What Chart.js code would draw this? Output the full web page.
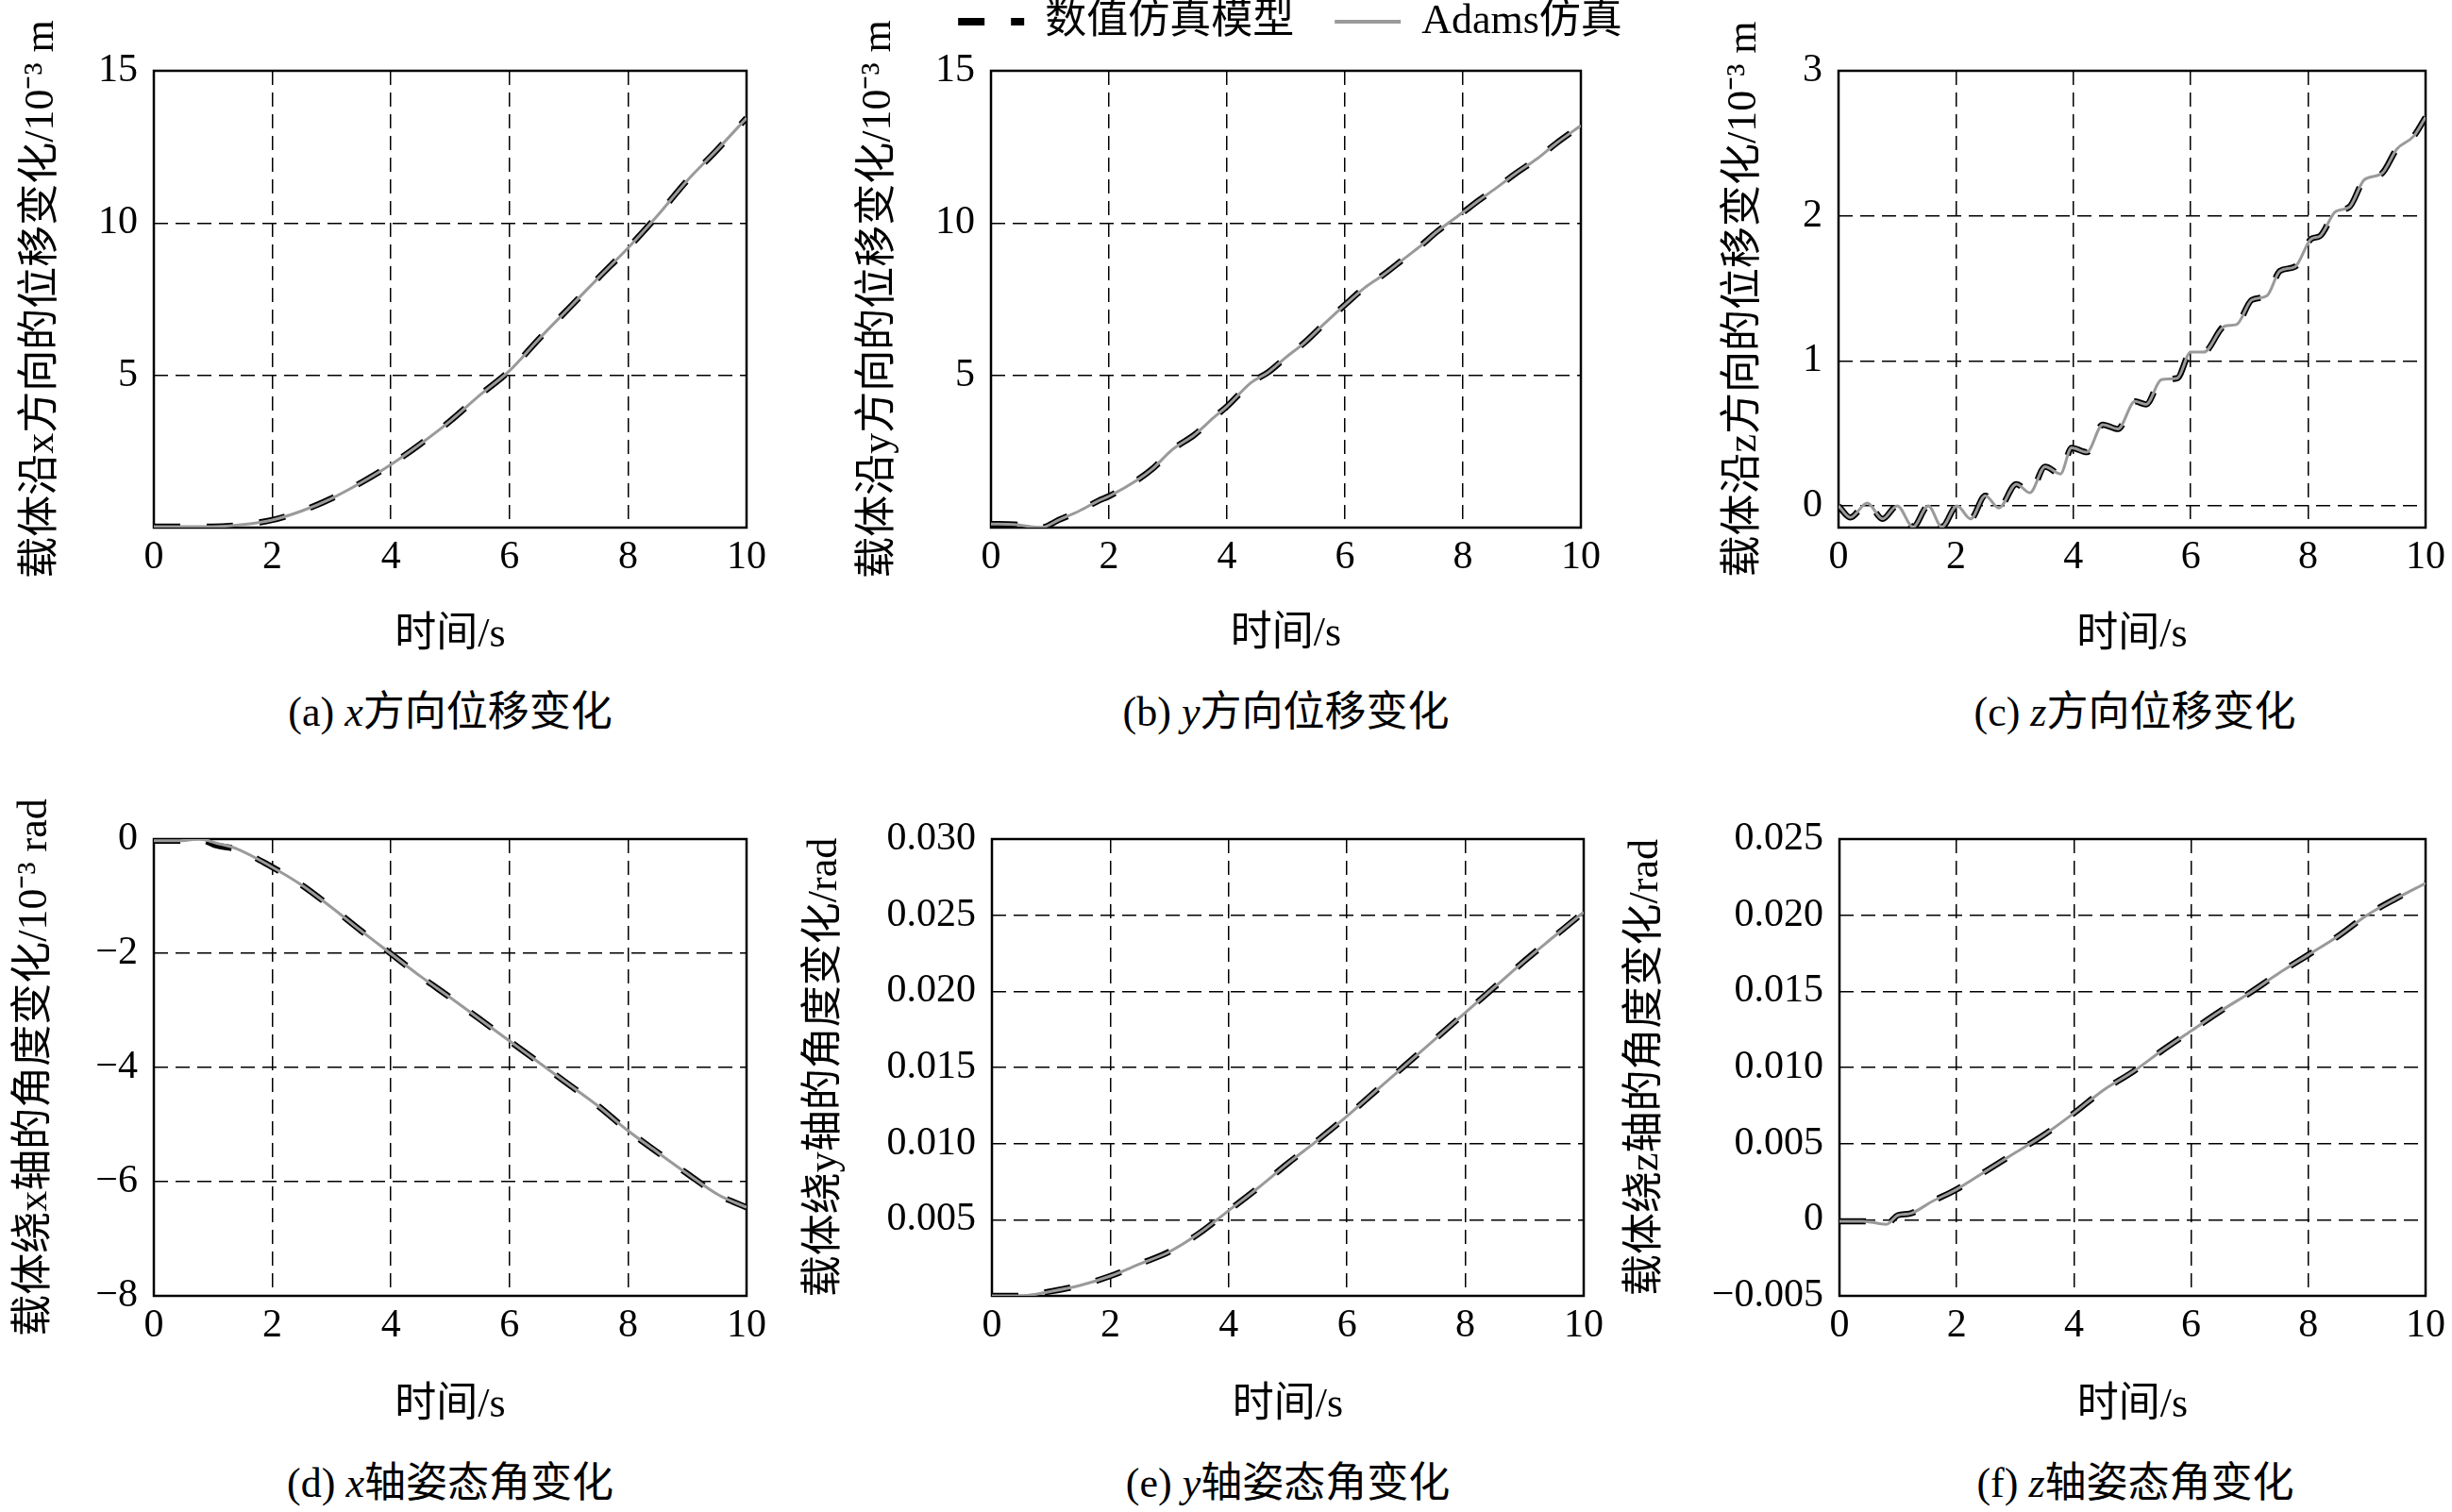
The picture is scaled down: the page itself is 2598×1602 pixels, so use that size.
<!DOCTYPE html>
<html>
<head>
<meta charset="utf-8">
<script src="https://cdn.jsdelivr.net/npm/chart.js@4.4.1/dist/chart.umd.min.js"></script>
<style>
  html, body { margin: 0; padding: 0; background: #fff; }
  body { position: relative; width: 2598px; height: 1602px; overflow: hidden;
         font-family: "Liberation Serif", "Noto Sans CJK SC", serif; color: #000; }
  canvas { position: absolute; }
  .cap { position: absolute; height: 60px; line-height: 60px; font-size: 44px;
         text-align: center; white-space: nowrap; }
</style>
</head>
<body>
<canvas id="cA"></canvas>
<canvas id="cB"></canvas>
<canvas id="cC"></canvas>
<canvas id="cD"></canvas>
<canvas id="cE"></canvas>
<canvas id="cF"></canvas>

<div class="cap" style="left:163px; top:725px; width:628px;">(a) <i>x</i>方向位移变化</div>
<div class="cap" style="left:1050px; top:725px; width:625px;">(b) <i>y</i>方向位移变化</div>
<div class="cap" style="left:1948px; top:725px; width:628px;">(c) <i>z</i>方向位移变化</div>
<div class="cap" style="left:163px; top:1542px; width:628px;">(d) <i>x</i>轴姿态角变化</div>
<div class="cap" style="left:1051px; top:1542px; width:627px;">(e) <i>y</i>轴姿态角变化</div>
<div class="cap" style="left:1949px; top:1542px; width:627px;">(f) <i>z</i>轴姿态角变化</div>

<script>
const FONT = '"Liberation Serif", "Noto Sans CJK SC", serif';

const seriesNames = ['数值仿真模型', 'Adams仿真'];
const timeTicks = [0, 2, 4, 6, 8, 10];
const timeTickLabels = ['0', '2', '4', '6', '8', '10'];

// (a) x displacement, 10^-3 m
const tA = [0, 0.5, 1.0, 1.5, 2.0, 2.5, 3.0, 3.5, 4.0, 4.5, 5.0, 5.5, 6.0, 6.5, 7.0, 7.5, 8.0, 8.5, 9.0, 9.5, 10];
const numA = [0.03, 0.03, 0.03, 0.1, 0.25, 0.55, 0.96, 1.48, 2.07, 2.75, 3.5, 4.35, 5.15, 6.2, 7.2, 8.2, 9.18, 10.25, 11.4, 12.4, 13.45];
const adamsA = [0.03, 0.03, 0.03, 0.1, 0.25, 0.55, 0.96, 1.48, 2.07, 2.75, 3.5, 4.35, 5.15, 6.2, 7.2, 8.2, 9.18, 10.25, 11.4, 12.4, 13.45];
const yTicksA = [0, 5, 10, 15];
const yLabelsA = ['', '5', '10', '15'];

// (b) y displacement, 10^-3 m
const tB = [0, 0.4, 0.84, 1.16, 1.5, 1.82, 2.0, 2.47, 2.75, 3.06, 3.45, 3.78, 4.0, 4.41, 4.7, 5.0, 5.3, 5.67, 6.02, 6.33, 6.65, 6.95, 7.25, 7.57, 8.0, 8.29, 8.6, 8.91, 9.25, 9.59, 10];
const numB = [0.12, 0.1, 0.0, 0.26, 0.55, 0.88, 1.03, 1.55, 1.95, 2.54, 3.05, 3.62, 3.98, 4.76, 5.1, 5.59, 6.05, 6.73, 7.35, 7.87, 8.3, 8.75, 9.2, 9.73, 10.35, 10.77, 11.2, 11.65, 12.1, 12.63, 13.2];
const adamsB = [0.12, 0.1, 0.0, 0.26, 0.55, 0.88, 1.03, 1.55, 1.95, 2.54, 3.05, 3.62, 3.98, 4.76, 5.1, 5.59, 6.05, 6.73, 7.35, 7.87, 8.3, 8.75, 9.2, 9.73, 10.35, 10.77, 11.2, 11.65, 12.1, 12.63, 13.2];
const yTicksB = [0, 5, 10, 15];
const yLabelsB = ['', '5', '10', '15'];

// (c) z displacement, 10^-3 m
const tC = [0, 0.2, 0.49, 0.75, 1.0, 1.27, 1.53, 1.76, 2.02, 2.25, 2.5, 2.73, 3.03, 3.26, 3.52, 3.78, 3.97, 4.23, 4.5, 4.76, 5.05, 5.24, 5.5, 5.77, 6.0, 6.22, 6.58, 6.78, 7.04, 7.3, 7.52, 7.78, 8.05, 8.2, 8.47, 8.7, 8.96, 9.25, 9.51, 9.8, 10];
const numC = [0, -0.08, 0.02, -0.09, 0.0, -0.145, 0.0, -0.145, 0.0, -0.09, 0.07, -0.015, 0.15, 0.09, 0.27, 0.22, 0.4, 0.37, 0.56, 0.53, 0.72, 0.7, 0.87, 0.88, 1.06, 1.06, 1.24, 1.25, 1.42, 1.45, 1.62, 1.65, 1.84, 1.86, 2.03, 2.06, 2.25, 2.29, 2.46, 2.55, 2.68];
const adamsC = [0, -0.08, 0.02, -0.09, 0.0, -0.145, 0.0, -0.145, 0.0, -0.09, 0.07, -0.015, 0.15, 0.09, 0.27, 0.22, 0.4, 0.37, 0.56, 0.53, 0.72, 0.7, 0.87, 0.88, 1.06, 1.06, 1.24, 1.25, 1.42, 1.45, 1.62, 1.65, 1.84, 1.86, 2.03, 2.06, 2.25, 2.29, 2.46, 2.55, 2.68];
const yTicksC = [0, 1, 2, 3];
const yLabelsC = ['0', '1', '2', '3'];

// (d) angle about x, 10^-3 rad
const tD = [0, 0.4, 0.78, 1.05, 1.4, 1.96, 2.5, 2.99, 3.5, 3.99, 4.52, 4.98, 5.48, 5.98, 6.48, 6.99, 7.49, 7.99, 8.49, 9.0, 9.54, 10];
const numD = [-0.03, -0.03, -0.01, -0.11, -0.18, -0.47, -0.81, -1.19, -1.61, -2.0, -2.42, -2.76, -3.14, -3.52, -3.9, -4.29, -4.67, -5.1, -5.48, -5.86, -6.24, -6.45];
const adamsD = [-0.03, -0.03, 0.0, -0.07, -0.17, -0.47, -0.81, -1.19, -1.61, -2.0, -2.42, -2.76, -3.14, -3.52, -3.9, -4.29, -4.67, -5.1, -5.48, -5.86, -6.24, -6.45];
const yTicksD = [-8, -6, -4, -2, 0];
const yLabelsD = ['\u22128', '\u22126', '\u22124', '\u22122', '0'];

// (e) angle about y, rad
const tE = [0, 0.5, 1.0, 1.5, 2.0, 2.5, 3.0, 3.5, 4.0, 4.5, 5.0, 5.5, 6.0, 6.5, 7.0, 7.5, 8.0, 8.5, 9.0, 9.5, 10];
const numE = [0, 0, 0.0003, 0.0007, 0.0013, 0.0021, 0.0029, 0.0041, 0.0056, 0.0071, 0.0087, 0.0102, 0.0118, 0.0135, 0.0152, 0.0169, 0.0186, 0.0203, 0.022, 0.0236, 0.0252];
const adamsE = [0, 0, 0.0003, 0.0007, 0.0013, 0.0021, 0.0029, 0.0041, 0.0056, 0.0071, 0.0087, 0.0102, 0.0118, 0.0135, 0.0152, 0.0169, 0.0186, 0.0203, 0.022, 0.0236, 0.0252];
const yTicksE = [0, 0.005, 0.01, 0.015, 0.02, 0.025, 0.03];
const yLabelsE = ['', '0.005', '0.010', '0.015', '0.020', '0.025', '0.030'];

// (f) angle about z, rad
const tF = [0, 0.4, 0.8, 1.0, 1.2, 1.58, 2.0, 2.5, 3.0, 3.5, 4.0, 4.5, 5.0, 5.5, 6.0, 6.5, 7.0, 7.5, 8.0, 8.5, 9.0, 9.5, 10];
const numF = [-0.0001, -0.0001, -0.0003, 0.0003, 0.0004, 0.0012, 0.002, 0.0032, 0.0044, 0.0056, 0.007, 0.0085, 0.0097, 0.0111, 0.0124, 0.0137, 0.0149, 0.0162, 0.0174, 0.0186, 0.02, 0.0211, 0.0221];
const adamsF = [-0.0001, -0.0001, -0.0003, 0.0003, 0.0004, 0.0012, 0.002, 0.0032, 0.0044, 0.0056, 0.007, 0.0085, 0.0097, 0.0111, 0.0124, 0.0137, 0.0149, 0.0162, 0.0174, 0.0186, 0.02, 0.0211, 0.0221];
const yTicksF = [-0.005, 0, 0.005, 0.01, 0.015, 0.02, 0.025];
const yLabelsF = ['\u22120.005', '0', '0.005', '0.010', '0.015', '0.020', '0.025'];

// layout of each panel (page pixels)
const panels = [
  { id: 'cA', t: tA, num: numA, adams: adamsA, yMin: 0, yMax: 15, yTicks: yTicksA, yLabels: yLabelsA,
    yTitle: '载体沿x方向的位移变化/10\u207B\u00B3 m',
    left: 18, top: 0, width: 813, height: 700, padTop: 75, padRight: 40, yWidth: 145, xHeight: 141, titlePad: 0 },
  { id: 'cB', t: tB, num: numB, adams: adamsB, yMin: 0, yMax: 15, yTicks: yTicksB, yLabels: yLabelsB,
    yTitle: '载体沿y方向的位移变化/10\u207B\u00B3 m',
    left: 880, top: -42, width: 974, height: 741, padTop: 0, padRight: 0, yWidth: 170, xHeight: 140, titlePad: 24.6,
    legend: true, rightWidth: 179 },
  { id: 'cC', t: tC, num: numC, adams: adamsC, yMin: -0.15, yMax: 3, yTicks: yTicksC, yLabels: yLabelsC,
    yTitle: '载体沿z方向的位移变化/10\u207B\u00B3 m',
    left: 1822, top: 0, width: 776, height: 700, padTop: 75, padRight: 22, yWidth: 126, xHeight: 141, titlePad: 0 },
  { id: 'cD', t: tD, num: numD, adams: adamsD, yMin: -8, yMax: 0, yTicks: yTicksD, yLabels: yLabelsD,
    yTitle: '载体绕x轴的角度变化/10\u207B\u00B3 rad',
    left: 11, top: 800, width: 820, height: 716, padTop: 89, padRight: 40, yWidth: 152, xHeight: 143, titlePad: 0 },
  { id: 'cE', t: tE, num: numE, adams: adamsE, yMin: 0, yMax: 0.03, yTicks: yTicksE, yLabels: yLabelsE,
    yTitle: '载体绕y轴的角度变化/rad',
    left: 848, top: 800, width: 870, height: 716, padTop: 89, padRight: 40, yWidth: 203, xHeight: 143, titlePad: 0 },
  { id: 'cF', t: tF, num: numF, adams: adamsF, yMin: -0.005, yMax: 0.025, yTicks: yTicksF, yLabels: yLabelsF,
    yTitle: '载体绕z轴的角度变化/rad',
    left: 1718, top: 800, width: 880, height: 716, padTop: 89, padRight: 22, yWidth: 231, xHeight: 143, titlePad: 0 }
];

Chart.defaults.font.family = FONT;
Chart.defaults.color = '#000';

// solid frame round the plot area
const framePlugin = {
  id: 'frame',
  beforeDatasetsDraw(chart) {
    const { ctx, chartArea: a } = chart;
    ctx.save();
    ctx.strokeStyle = '#000';
    ctx.lineWidth = 2.5;
    ctx.strokeRect(a.left, a.top, a.right - a.left, a.bottom - a.top);
    ctx.restore();
  }
};

// extra space between the legend and the plot
const legendGap = {
  id: 'legendGap',
  afterInit(chart) {
    const lg = chart.legend;
    if (!lg) return;
    const fit = lg.fit;
    lg.fit = function () { fit.call(this); this.height += 20; };
  }
};

function makeChart(p) {
  const cv = document.getElementById(p.id);
  cv.width = p.width;
  cv.height = p.height;
  cv.style.left = p.left + 'px';
  cv.style.top = p.top + 'px';

  const scales = {
    x: {
      type: 'linear', min: 0, max: 10,
      afterBuildTicks: s => { s.ticks = timeTicks.map(v => ({ value: v })); },
      afterFit: s => { s.height = p.xHeight; },
      ticks: { font: { size: 42 }, padding: 7, maxRotation: 0, autoSkip: false,
               callback: (v, i) => timeTickLabels[i] },
      grid: { color: '#000', lineWidth: 1.5, drawTicks: false },
      border: { display: false, dash: [15, 8] },
      title: { display: true, text: '时间/s', font: { size: 44 }, padding: 0 }
    },
    y: {
      type: 'linear', min: p.yMin, max: p.yMax,
      afterBuildTicks: s => { s.ticks = p.yTicks.map(v => ({ value: v })); },
      afterFit: s => { s.width = p.yWidth; },
      ticks: { font: { size: 42 }, padding: 17, autoSkip: false,
               callback: (v, i) => p.yLabels[i] },
      grid: { color: '#000', lineWidth: 1.5, drawTicks: false },
      border: { display: false, dash: [15, 8] },
      title: { display: true, text: p.yTitle, font: { size: 44 }, padding: { top: p.titlePad, bottom: 0 } }
    }
  };
  if (p.rightWidth) {
    scales.yR = {
      position: 'right', display: true,
      afterFit: s => { s.width = p.rightWidth; },
      ticks: { display: false }, grid: { display: false, drawTicks: false },
      border: { display: false }, title: { display: false }
    };
  }

  const lineOpts = { pointRadius: 0, cubicInterpolationMode: 'monotone', fill: false };

  return new Chart(cv, {
    type: 'line',
    data: {
      datasets: [
        Object.assign({
          label: seriesNames[0],
          data: p.t.map((t, i) => ({ x: t, y: p.num[i] })),
          borderColor: '#000', borderWidth: 6.5, borderDash: [28, 28], order: 1
        }, lineOpts),
        Object.assign({
          label: seriesNames[1],
          data: p.t.map((t, i) => ({ x: t, y: p.adams[i] })),
          borderColor: '#9a9a9a', borderWidth: 3, order: 0
        }, lineOpts)
      ]
    },
    options: {
      responsive: false,
      animation: false,
      devicePixelRatio: 1,
      layout: { padding: { top: p.padTop, right: p.padRight, bottom: 0, left: 0 } },
      scales,
      plugins: {
        tooltip: { enabled: false },
        legend: {
          display: !!p.legend,
          position: 'top',
          labels: {
            font: { size: 44 },
            color: '#000',
            padding: 43,
            usePointStyle: true,
            pointStyleWidth: 70,
            generateLabels: chart => chart.data.datasets.map((ds, i) => ({
              text: ds.label,
              fillStyle: 'rgba(0,0,0,0)',
              strokeStyle: ds.borderColor,
              lineWidth: i === 0 ? 8 : 4,
              lineDash: ds.borderDash || [],
              lineDashOffset: 0,
              pointStyle: 'line',
              fontColor: '#000',
              hidden: false,
              datasetIndex: i
            }))
          }
        }
      }
    },
    plugins: p.legend ? [framePlugin, legendGap] : [framePlugin]
  });
}

panels.forEach(makeChart);
</script>
</body>
</html>
